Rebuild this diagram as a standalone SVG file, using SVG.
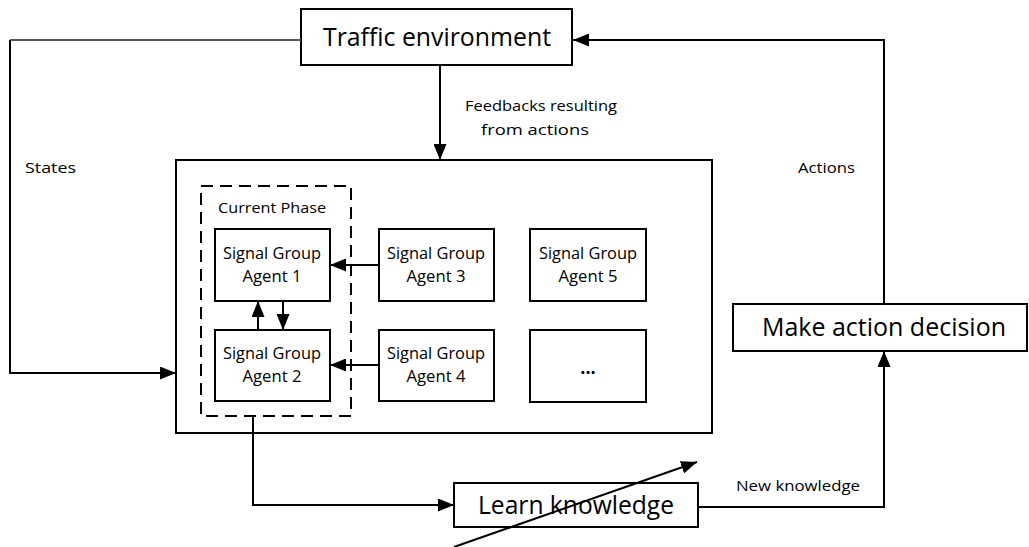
<svg xmlns="http://www.w3.org/2000/svg" width="1029" height="547" viewBox="0 0 1029 547">
<style>
.box{fill:#fff;stroke:#000;stroke-width:2}
.dash{fill:none;stroke:#000;stroke-width:2;stroke-dasharray:12 7}
.c{fill:none;stroke:#000;stroke-width:2}
.t{font-family:"Open Sans","Noto Sans",sans-serif;fill:#000}
.big{font-size:26px}
.lbl{font-size:14.5px}
.sg{font-size:15.5px}
</style>
<defs>
<marker id="ah" markerUnits="userSpaceOnUse" markerWidth="16" markerHeight="13" refX="16" refY="6.5" orient="auto">
<path d="M0,0 L16,6.5 L0,13 Z" fill="#000"/>
</marker>
</defs>
<rect width="1029" height="547" fill="#fff"/>
<g id="main">
<rect class="box" x="176" y="160" width="536" height="273"/>
</g>
<g id="phase">
<rect class="dash" x="201" y="186" width="150" height="230"/>
<text class="t lbl" x="272" y="213" text-anchor="middle" textLength="108" lengthAdjust="spacingAndGlyphs">Current Phase</text>
</g>
<g id="traffic">
<rect class="box" x="301" y="9" width="271" height="56"/>
<text class="t big" x="437" y="46" text-anchor="middle" textLength="228" lengthAdjust="spacingAndGlyphs">Traffic environment</text>
</g>
<g id="agent1">
<rect class="box" x="215" y="229" width="115" height="72"/>
<text class="t sg" x="272" y="259" text-anchor="middle" textLength="98" lengthAdjust="spacingAndGlyphs">Signal Group</text>
<text class="t sg" x="272" y="282" text-anchor="middle" textLength="59" lengthAdjust="spacingAndGlyphs">Agent 1</text>
</g>
<g id="agent2">
<rect class="box" x="215" y="330" width="115" height="71"/>
<text class="t sg" x="272" y="359" text-anchor="middle" textLength="98" lengthAdjust="spacingAndGlyphs">Signal Group</text>
<text class="t sg" x="272" y="382" text-anchor="middle" textLength="59" lengthAdjust="spacingAndGlyphs">Agent 2</text>
</g>
<g id="agent3">
<rect class="box" x="379" y="229" width="115" height="72"/>
<text class="t sg" x="436" y="259" text-anchor="middle" textLength="98" lengthAdjust="spacingAndGlyphs">Signal Group</text>
<text class="t sg" x="436" y="282" text-anchor="middle" textLength="59" lengthAdjust="spacingAndGlyphs">Agent 3</text>
</g>
<g id="agent4">
<rect class="box" x="379" y="330" width="115" height="71"/>
<text class="t sg" x="436" y="359" text-anchor="middle" textLength="98" lengthAdjust="spacingAndGlyphs">Signal Group</text>
<text class="t sg" x="436" y="382" text-anchor="middle" textLength="59" lengthAdjust="spacingAndGlyphs">Agent 4</text>
</g>
<g id="agent5">
<rect class="box" x="530" y="229" width="116" height="72"/>
<text class="t sg" x="588" y="259" text-anchor="middle" textLength="98" lengthAdjust="spacingAndGlyphs">Signal Group</text>
<text class="t sg" x="588" y="282" text-anchor="middle" textLength="59" lengthAdjust="spacingAndGlyphs">Agent 5</text>
</g>
<g id="more">
<rect class="box" x="530" y="330" width="116" height="72"/>
<text class="t" x="588" y="374" text-anchor="middle" font-size="18" font-weight="bold">...</text>
</g>
<g id="decision">
<rect class="box" x="733" y="304" width="294" height="47"/>
<text class="t big" x="884" y="336" text-anchor="middle" textLength="244" lengthAdjust="spacingAndGlyphs">Make action decision</text>
</g>
<g id="learn">
<rect class="box" x="454" y="483" width="244" height="44"/>
<text class="t big" x="576" y="514" text-anchor="middle" textLength="196" lengthAdjust="spacingAndGlyphs">Learn knowledge</text>
</g>
<g id="connectors">
<path d="M301,40 H10" fill="none" stroke="#555" stroke-width="2"/>
<path class="c" d="M10,40 V373 H176" marker-end="url(#ah)"/>
<path class="c" d="M440,65 V160" marker-end="url(#ah)"/>
<path class="c" d="M884,304 V40 H573" marker-end="url(#ah)"/>
<path class="c" d="M698,507 H884 V351" marker-end="url(#ah)"/>
<path class="c" d="M253,416 V505 H454" marker-end="url(#ah)"/>
<path class="c" d="M379,265 H330" marker-end="url(#ah)"/>
<path class="c" d="M379,365 H330" marker-end="url(#ah)"/>
<path class="c" d="M258,330 V301" marker-end="url(#ah)"/>
<path class="c" d="M283,301 V330" marker-end="url(#ah)"/>
<path class="c" d="M454,547 L697,462" marker-end="url(#ah)"/>
</g>
<g id="labels">
<text class="t lbl" x="541" y="111" text-anchor="middle" textLength="152" lengthAdjust="spacingAndGlyphs">Feedbacks resulting</text>
<text class="t lbl" x="535" y="135" text-anchor="middle" textLength="108" lengthAdjust="spacingAndGlyphs">from actions</text>
<text class="t lbl" x="25" y="173" textLength="51" lengthAdjust="spacingAndGlyphs">States</text>
<text class="t lbl" x="798" y="173" textLength="57" lengthAdjust="spacingAndGlyphs">Actions</text>
<text class="t lbl" x="736" y="491" textLength="124" lengthAdjust="spacingAndGlyphs">New knowledge</text>
</g>
</svg>
